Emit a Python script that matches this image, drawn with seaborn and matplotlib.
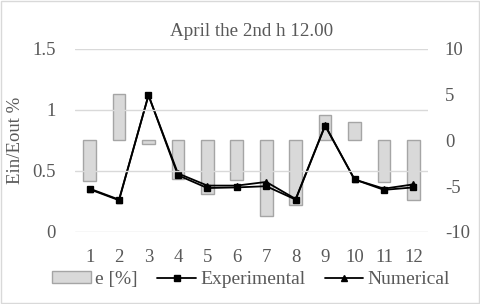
import matplotlib
matplotlib.use("Agg")
import matplotlib.pyplot as plt
import seaborn as sns
from matplotlib.lines import Line2D
from matplotlib.patches import Patch, Rectangle

# ---- data ----
hours = ["1", "2", "3", "4", "5", "6", "7", "8", "9", "10", "11", "12"]
e_pct = [-4.4, 5.1, -0.35, -4.25, -5.8, -4.3, -8.3, -7.1, 2.8, 2.05, -4.5, -6.5]
experimental = [0.35, 0.26, 1.12, 0.465, 0.36, 0.365, 0.375, 0.265, 0.87, 0.43, 0.345, 0.365]
numerical = [0.355, 0.265, 1.12, 0.48, 0.38, 0.38, 0.41, 0.27, 0.875, 0.43, 0.355, 0.39]

sns.set_style("white")
plt.rcParams["font.family"] = ["Liberation Serif", "DejaVu Serif"]
plt.rcParams["axes.unicode_minus"] = False
txt = "#595959"

fig = plt.figure(figsize=(4.8, 3.04), dpi=100)
ax = fig.add_axes([0.156, 0.237, 0.736, 0.602])
ax2 = ax.twinx()

# bars on the right scale
sns.barplot(x=hours, y=e_pct, ax=ax2, color="#d9d9d9", width=0.43,
            edgecolor="#a5a5a5", linewidth=1.0, saturation=1)
ax2.set_ylim(-10, 10)
ax2.set_yticks([-10, -5, 0, 5, 10])

# lines on the left scale, drawn on top of the bars
ax.set_zorder(ax2.get_zorder() + 1)
ax.patch.set_visible(False)
sns.pointplot(x=hours, y=experimental, ax=ax, color="black", markers="s",
              linestyles="-", markersize=4, linewidth=1.3)
sns.pointplot(x=hours, y=numerical, ax=ax, color="black", markers="^",
              linestyles="-", markersize=4.5, linewidth=1.3)
ax.set_ylim(0, 1.5)
ax.set_yticks([0, 0.5, 1, 1.5])
ax.set_yticklabels(["0", "0.5", "1", "1.5"])
ax.set_xlim(-0.5, 11.5)
ax2.set_xlim(-0.5, 11.5)
ax.yaxis.grid(True, color="#d9d9d9", linewidth=1.0)
ax.set_axisbelow(False)

for a in (ax, ax2):
    for s in a.spines.values():
        s.set_visible(False)
    a.tick_params(length=0, labelsize=13.5, colors=txt)
    a.set_xlabel("")
ax.tick_params(axis="y", pad=14)
ax2.tick_params(axis="y", pad=12)
ax.tick_params(axis="x", pad=12)
ax2.set_ylabel("")
ax.set_ylabel("Ein/Eout %", fontsize=13.5, color=txt, labelpad=6)

fig.text(0.525, 0.898, "April the 2nd h 12.00", ha="center", va="center",
         fontsize=13.7, color=txt)

handles = [
    Patch(facecolor="#d9d9d9", edgecolor="#a5a5a5", linewidth=1.0),
    Line2D([], [], color="black", marker="s", markersize=4, linewidth=1.3),
    Line2D([], [], color="black", marker="^", markersize=4.5, linewidth=1.3),
]
fig.legend(handles, ["e [%]", "Experimental", "Numerical"], loc="center",
           bbox_to_anchor=(0.523, 0.08), ncol=3, frameon=False, fontsize=14,
           handlelength=2.0, handleheight=0.55, columnspacing=1.0,
           handletextpad=0.2, labelcolor=txt)

fig.patches.append(Rectangle((0.003, 0.004), 0.994, 0.992, transform=fig.transFigure,
                             fill=False, edgecolor="#d9d9d9", linewidth=1.0))

fig.savefig("out.png", dpi=100)
